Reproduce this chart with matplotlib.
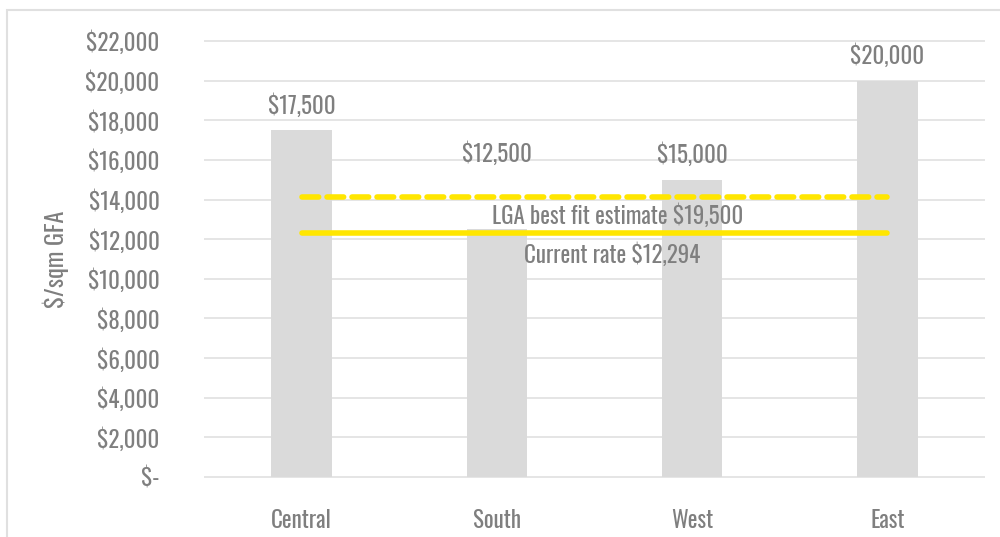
import matplotlib
matplotlib.use("Agg")
import matplotlib.pyplot as plt
from matplotlib.patches import Rectangle
from matplotlib.ticker import FuncFormatter
from matplotlib import font_manager as fm

categories = ["Central", "South", "West", "East"]
values = [17500, 12500, 15000, 20000]
best_fit_level = 14150
current_rate_level = 12294
best_fit_label = "LGA best fit estimate $19,500"
current_rate_label = "Current rate $12,294"
y_ticks = list(range(0, 22001, 2000))

# choose a condensed font if one is installed
names = {f.name for f in fm.fontManager.ttflist}
stretches = {(f.name, f.stretch) for f in fm.fontManager.ttflist}
FAM = "DejaVu Sans"
STRETCH = "normal"
for cand in ["Oswald", "Roboto Condensed", "Liberation Sans Narrow", "Open Sans Condensed",
             "Noto Sans Condensed", "DejaVu Sans Condensed"]:
    if cand in names:
        FAM = cand
        break
else:
    for (n, s) in stretches:
        if n == "DejaVu Sans" and s in ("condensed", "semi-condensed", 87, 75, 62):
            STRETCH = "condensed"
            break
plt.rcParams["font.family"] = [FAM, "DejaVu Sans"]
plt.rcParams["font.stretch"] = STRETCH
TXT = "#7f7f7f"
FS = 16.5

fig = plt.figure(figsize=(10, 5.37), dpi=100)
fig.patches.append(Rectangle((0.007, -0.01), 1.2, 0.992, transform=fig.transFigure,
                             fill=False, edgecolor="#e0e0e0", linewidth=1.5))
ppu = 436 / 22000.0
pad_u = 80
ax = fig.add_axes([0.204, (60 - pad_u * ppu) / 537, 0.781, (436 + 2 * pad_u * ppu) / 537])

x = list(range(len(categories)))
ax.bar(x, values, width=0.31, color="#dadada", zorder=2)
ax.set_xlim(-0.5, len(categories) - 0.5)
ax.set_ylim(-pad_u, 22000 + pad_u)
ax.set_yticks(y_ticks)

def fmt(v, pos=None):
    return "$-" if v == 0 else f"${v:,.0f}"

ax.yaxis.set_major_formatter(FuncFormatter(fmt))
ax.grid(axis="y", color="#e3e3e3", linewidth=1.3, zorder=0)
ax.set_axisbelow(True)
for s in ax.spines.values():
    s.set_visible(False)
ax.tick_params(axis="both", length=0, labelsize=FS, labelcolor=TXT)
ax.tick_params(axis="y", pad=32)
ax.tick_params(axis="x", pad=22)
ax.set_xticks(x)
ax.set_xticklabels(categories)
ax.set_ylabel("$/sqm GFA", fontsize=FS + 1, color=TXT, labelpad=12)

# label offsets (points) above each bar; South label was lifted clear of the lines
label_offsets = [9, 46, 9, 9]
for xi, v, off in zip(x, values, label_offsets):
    ax.annotate(f"${v:,.0f}", (xi, v), xytext=(0, off), textcoords="offset points",
                ha="center", va="bottom", fontsize=FS, color=TXT)

ax.plot([x[0], x[-1]], [best_fit_level] * 2, color="#ffe600", linewidth=4,
        linestyle=(0, (3, 1.5)), dash_capstyle="round", zorder=3)
ax.plot([x[0], x[-1]], [current_rate_level] * 2, color="#ffe600", linewidth=4,
        solid_capstyle="round", zorder=3)

ax.annotate(best_fit_label, (1.62, best_fit_level), xytext=(0, -14),
            textcoords="offset points", ha="center", va="center",
            fontsize=FS, color=TXT, zorder=4)
ax.annotate(current_rate_label, (1.59, current_rate_level), xytext=(0, -15),
            textcoords="offset points", ha="center", va="center",
            fontsize=FS, color=TXT, zorder=4)

fig.savefig("out.png", dpi=100)
